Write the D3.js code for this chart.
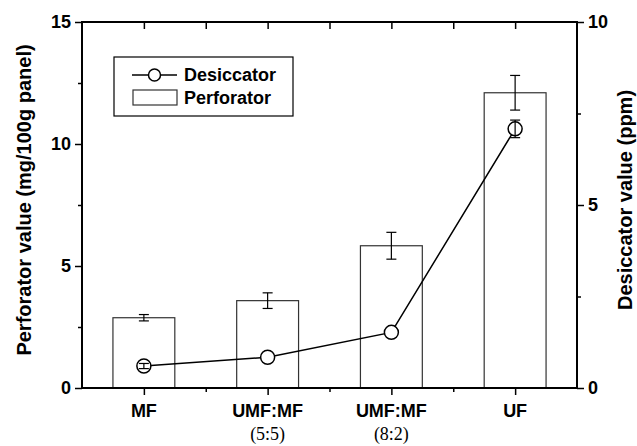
<!DOCTYPE html>
<html>
<head>
<meta charset="utf-8">
<script src="https://cdn.jsdelivr.net/npm/d3@7"></script>
<style>
  body { margin: 0; background: #fff; }
  text { font-family: "Liberation Sans", Arial, sans-serif; font-weight: bold; fill: #000; }
  .serif { font-family: "Liberation Serif", "Times New Roman", serif; font-weight: normal; }
</style>
</head>
<body>
<div id="chart"></div>
<script>
// data
var categories = ['MF', 'UMF:MF', 'UMF:MF', 'UF'];
var ratios = ['', '(5:5)', '(8:2)', ''];
var perforator = [2.88, 3.58, 5.83, 12.1];
var perforatorErr = [0.13, 0.32, 0.55, 0.71];
var desiccator = [0.6, 0.84, 1.52, 7.08];
var desiccatorErr = [0.07, 0, 0, 0.24];
var leftTicks = [0, 5, 10, 15];
var rightTicks = [0, 5, 10];

var width = 637;
var height = 446;
var pLeft = 82, pRight = 577, pTop = 22, pBottom = 388;

var svg = d3.select('#chart').append('svg')
  .attr('width', width)
  .attr('height', height);

var x = d3.scaleLinear().domain([0.5, 4.5]).range([pLeft, pRight]);
var yL = d3.scaleLinear().domain([0, 15]).range([pBottom, pTop]);
var yR = d3.scaleLinear().domain([0, 10]).range([pBottom, pTop]);

var idx = categories.map(function(d, i) { return i + 1; });
var barW = x(1.25) - x(1);

// bars
svg.append('g').selectAll('rect')
  .data(perforator)
  .enter().append('rect')
  .attr('x', function(d, i) { return x(i + 1) - barW; })
  .attr('y', function(d) { return yL(d); })
  .attr('width', barW * 2)
  .attr('height', function(d) { return yL(0) - yL(d); })
  .attr('fill', '#fff')
  .attr('stroke', '#333')
  .attr('stroke-width', 1.2);

// error bars helper
var errBars = function(g, vals, errs, y) {
  vals.forEach(function(v, i) {
    if (!errs[i]) return;
    var cx = x(i + 1);
    var y1 = y(v + errs[i]), y2 = y(v - errs[i]);
    g.append('line').attr('x1', cx).attr('x2', cx).attr('y1', y1).attr('y2', y2);
    g.append('line').attr('x1', cx - 5).attr('x2', cx + 5).attr('y1', y1).attr('y2', y1);
    g.append('line').attr('x1', cx - 5).attr('x2', cx + 5).attr('y1', y2).attr('y2', y2);
  });
};

var eb = svg.append('g').attr('stroke', '#000').attr('stroke-width', 1.2);
errBars(eb, perforator, perforatorErr, yL);

// desiccator line
var line = d3.line()
  .x(function(d, i) { return x(i + 1); })
  .y(function(d) { return yR(d); });

svg.append('path')
  .datum(desiccator)
  .attr('d', line)
  .attr('fill', 'none')
  .attr('stroke', '#000')
  .attr('stroke-width', 1.5);

svg.append('g').selectAll('circle')
  .data(desiccator)
  .enter().append('circle')
  .attr('cx', function(d, i) { return x(i + 1); })
  .attr('cy', function(d) { return yR(d); })
  .attr('r', 7)
  .attr('fill', '#fff')
  .attr('stroke', '#000')
  .attr('stroke-width', 1.5);

var eb2 = svg.append('g').attr('stroke', '#000').attr('stroke-width', 1.2);
errBars(eb2, desiccator, desiccatorErr, yR);

// axes
var axB = svg.append('g').attr('transform', 'translate(0,' + pBottom + ')')
  .call(d3.axisBottom(x).tickValues(idx).tickSize(7).tickFormat(''));
var axBm = svg.append('g').attr('transform', 'translate(0,' + pBottom + ')')
  .call(d3.axisBottom(x).tickValues([1.5, 2.5, 3.5]).tickSize(4).tickFormat(''));
var axT = svg.append('g').attr('transform', 'translate(0,' + pTop + ')')
  .call(d3.axisBottom(x).tickValues([1, 1.5, 2, 2.5, 3, 3.5, 4]).tickSize(7).tickFormat(''));
var axL = svg.append('g').attr('transform', 'translate(' + pLeft + ',0)')
  .call(d3.axisLeft(yL).tickValues(leftTicks).tickSize(7).tickPadding(4));
var axLm = svg.append('g').attr('transform', 'translate(' + pLeft + ',0)')
  .call(d3.axisLeft(yL).tickValues([2.5, 7.5, 12.5]).tickSize(4).tickFormat(''));
var axR = svg.append('g').attr('transform', 'translate(' + pRight + ',0)')
  .call(d3.axisRight(yR).tickValues(rightTicks).tickSize(7).tickPadding(4));
var axRm = svg.append('g').attr('transform', 'translate(' + pRight + ',0)')
  .call(d3.axisRight(yR).tickValues([2.5, 7.5]).tickSize(4).tickFormat(''));

[axB, axBm, axT, axL, axLm, axR, axRm].forEach(function(a) {
  a.select('.domain').remove();
  a.selectAll('line').attr('stroke', '#000').attr('stroke-width', 1.5);
  a.selectAll('text').attr('font-size', 18).attr('font-family', null).attr('fill', '#000');
});

// frame
svg.append('rect')
  .attr('x', pLeft).attr('y', pTop)
  .attr('width', pRight - pLeft).attr('height', pBottom - pTop)
  .attr('fill', 'none').attr('stroke', '#000').attr('stroke-width', 2);

// category labels
svg.append('g').selectAll('text')
  .data(categories)
  .enter().append('text')
  .attr('x', function(d, i) { return x(i + 1); })
  .attr('y', 417)
  .attr('text-anchor', 'middle')
  .attr('font-size', 18)
  .text(function(d) { return d; });

svg.append('g').selectAll('text')
  .data(ratios)
  .enter().append('text')
  .attr('class', 'serif')
  .attr('x', function(d, i) { return x(i + 1); })
  .attr('y', 440)
  .attr('text-anchor', 'middle')
  .attr('font-size', 18)
  .text(function(d) { return d; });

// axis titles
svg.append('text')
  .attr('transform', 'translate(31,' + 200 + ') rotate(-90)')
  .attr('text-anchor', 'middle')
  .attr('font-size', 20)
  .text('Perforator value (mg/100g panel)');

svg.append('text')
  .attr('transform', 'translate(632,' + 200 + ') rotate(-90)')
  .attr('text-anchor', 'middle')
  .attr('font-size', 20)
  .text('Desiccator value (ppm)');

// legend
var lg = svg.append('g');
lg.append('rect')
  .attr('x', 114).attr('y', 57).attr('width', 179).attr('height', 59)
  .attr('fill', '#fff').attr('stroke', '#000').attr('stroke-width', 1.2);
lg.append('line')
  .attr('x1', 132).attr('x2', 177).attr('y1', 75).attr('y2', 75)
  .attr('stroke', '#000').attr('stroke-width', 1.5);
lg.append('circle')
  .attr('cx', 154.5).attr('cy', 75).attr('r', 6)
  .attr('fill', '#fff').attr('stroke', '#000').attr('stroke-width', 1.5);
lg.append('rect')
  .attr('x', 133).attr('y', 90).attr('width', 44).attr('height', 15)
  .attr('fill', '#fff').attr('stroke', '#333').attr('stroke-width', 1.2);
lg.append('text').attr('x', 184).attr('y', 81).attr('font-size', 18).text('Desiccator');
lg.append('text').attr('x', 184).attr('y', 104).attr('font-size', 18).text('Perforator');
</script>
</body>
</html>
